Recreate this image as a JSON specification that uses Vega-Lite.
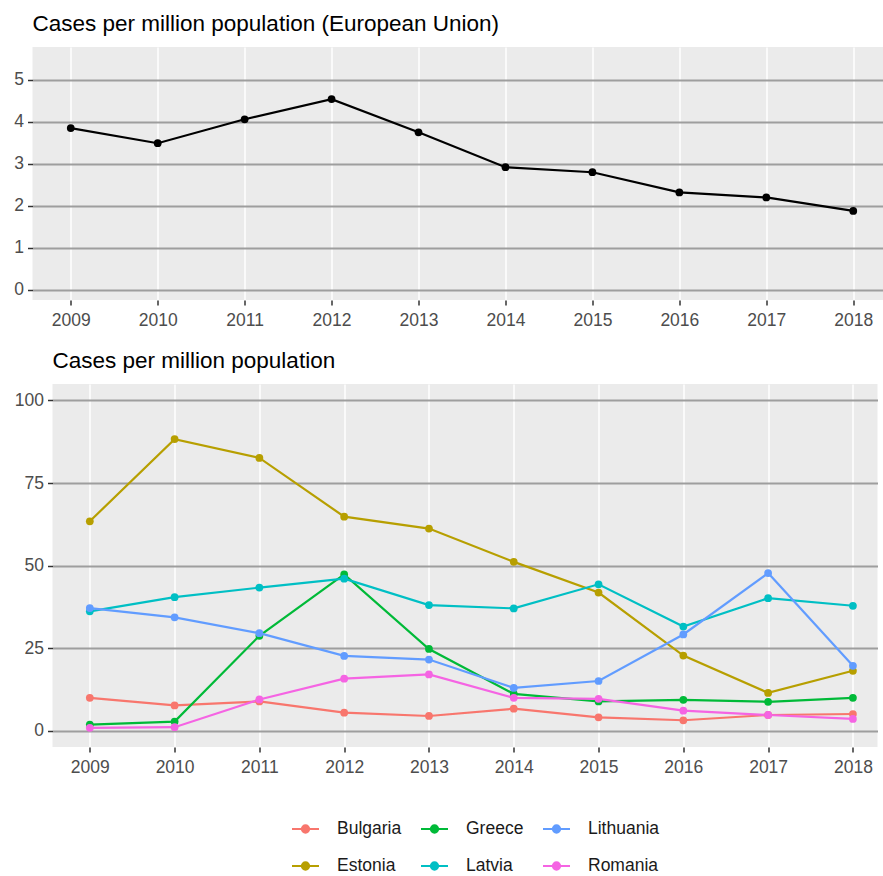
{
  "$schema": "https://vega.github.io/schema/vega-lite/v6.json",
  "padding": {"left": 13.5, "top": 12, "right": -15, "bottom": 0},
  "background": "#FFFFFF",
  "config": {
    "font": "Liberation Sans",
    "view": {"fill": "#EBEBEB", "stroke": null},
    "axis": {
      "domain": false,
      "tickColor": "#333333",
      "tickSize": 5,
      "tickWidth": 1.5,
      "labelColor": "#4D4D4D",
      "labelFontSize": 17.5,
      "labelFont": "Liberation Sans",
      "gridOpacity": 1
    },
    "axisX": {"gridColor": "#FFFFFF", "gridWidth": 1.5, "labelPadding": 6},
    "axisY": {"gridColor": "#9E9E9E", "gridWidth": 2, "labelPadding": 4},
    "title": {
      "anchor": "start",
      "frame": "group",
      "fontSize": 22.5,
      "fontWeight": "normal",
      "color": "#000000",
      "font": "Liberation Sans",
      "offset": 12
    }
  },
  "resolve": {"scale": {"color": "independent"}, "legend": {"color": "independent"}},
  "spacing": 20,
  "center": true,
  "vconcat": [
    {
      "title": {"text": "Cases per million population (European Union)"},
      "width": 859,
      "height": 253,
      "data": {
        "values": [
          {"year": 2009, "value": 3.85},
          {"year": 2010, "value": 3.49},
          {"year": 2011, "value": 4.06},
          {"year": 2012, "value": 4.54},
          {"year": 2013, "value": 3.75},
          {"year": 2014, "value": 2.92},
          {"year": 2015, "value": 2.80},
          {"year": 2016, "value": 2.32},
          {"year": 2017, "value": 2.20},
          {"year": 2018, "value": 1.88}
        ]
      },
      "encoding": {
        "x": {
          "field": "year",
          "type": "quantitative",
          "scale": {"domain": [2008.56, 2018.44], "nice": false, "zero": false},
          "axis": {"values": [2009, 2010, 2011, 2012, 2013, 2014, 2015, 2016, 2017, 2018], "format": "d", "title": null}
        }
      },
      "resolve": {"axis": {"y": "independent"}},
      "layer": [
        {
          "mark": {"type": "line", "color": "#000000", "strokeWidth": 2.2},
          "encoding": {
            "y": {
              "field": "value",
              "type": "quantitative",
              "scale": {"domain": [-0.24, 5.78], "nice": false, "zero": false},
              "axis": {"values": [0, 1, 2, 3, 4, 5], "title": null}
            }
          }
        },
        {
          "mark": {"type": "point", "filled": true, "color": "#000000", "size": 60, "opacity": 1},
          "encoding": {
            "y": {
              "field": "value",
              "type": "quantitative",
              "axis": {
                "orient": "right",
                "values": [0],
                "labels": false,
                "domain": false,
                "grid": false,
                "ticks": true,
                "tickSize": 6,
                "tickOpacity": 0,
                "tickColor": "transparent",
                "title": null
              }
            }
          }
        }
      ]
    },
    {
      "title": {"text": "Cases per million population"},
      "width": 825,
      "height": 363,
      "data": {
        "values": [
          {"year": 2009, "country": "Bulgaria", "cases": 9.9},
          {"year": 2010, "country": "Bulgaria", "cases": 7.6},
          {"year": 2011, "country": "Bulgaria", "cases": 8.8},
          {"year": 2012, "country": "Bulgaria", "cases": 5.4},
          {"year": 2013, "country": "Bulgaria", "cases": 4.4},
          {"year": 2014, "country": "Bulgaria", "cases": 6.6},
          {"year": 2015, "country": "Bulgaria", "cases": 4.0},
          {"year": 2016, "country": "Bulgaria", "cases": 3.1},
          {"year": 2017, "country": "Bulgaria", "cases": 4.7},
          {"year": 2018, "country": "Bulgaria", "cases": 5.0},
          {"year": 2009, "country": "Estonia", "cases": 63.4},
          {"year": 2010, "country": "Estonia", "cases": 88.3},
          {"year": 2011, "country": "Estonia", "cases": 82.6},
          {"year": 2012, "country": "Estonia", "cases": 64.8},
          {"year": 2013, "country": "Estonia", "cases": 61.2},
          {"year": 2014, "country": "Estonia", "cases": 51.1},
          {"year": 2015, "country": "Estonia", "cases": 41.8},
          {"year": 2016, "country": "Estonia", "cases": 22.7},
          {"year": 2017, "country": "Estonia", "cases": 11.4},
          {"year": 2018, "country": "Estonia", "cases": 18.1},
          {"year": 2009, "country": "Greece", "cases": 1.8},
          {"year": 2010, "country": "Greece", "cases": 2.7},
          {"year": 2011, "country": "Greece", "cases": 28.7},
          {"year": 2012, "country": "Greece", "cases": 47.3},
          {"year": 2013, "country": "Greece", "cases": 24.7},
          {"year": 2014, "country": "Greece", "cases": 11.1},
          {"year": 2015, "country": "Greece", "cases": 8.8},
          {"year": 2016, "country": "Greece", "cases": 9.3},
          {"year": 2017, "country": "Greece", "cases": 8.7},
          {"year": 2018, "country": "Greece", "cases": 9.9},
          {"year": 2009, "country": "Latvia", "cases": 36.1},
          {"year": 2010, "country": "Latvia", "cases": 40.4},
          {"year": 2011, "country": "Latvia", "cases": 43.3},
          {"year": 2012, "country": "Latvia", "cases": 46.0},
          {"year": 2013, "country": "Latvia", "cases": 38.0},
          {"year": 2014, "country": "Latvia", "cases": 37.0},
          {"year": 2015, "country": "Latvia", "cases": 44.3},
          {"year": 2016, "country": "Latvia", "cases": 31.5},
          {"year": 2017, "country": "Latvia", "cases": 40.1},
          {"year": 2018, "country": "Latvia", "cases": 37.8},
          {"year": 2009, "country": "Lithuania", "cases": 37.1},
          {"year": 2010, "country": "Lithuania", "cases": 34.3},
          {"year": 2011, "country": "Lithuania", "cases": 29.5},
          {"year": 2012, "country": "Lithuania", "cases": 22.6},
          {"year": 2013, "country": "Lithuania", "cases": 21.5},
          {"year": 2014, "country": "Lithuania", "cases": 12.9},
          {"year": 2015, "country": "Lithuania", "cases": 15.0},
          {"year": 2016, "country": "Lithuania", "cases": 29.1},
          {"year": 2017, "country": "Lithuania", "cases": 47.7},
          {"year": 2018, "country": "Lithuania", "cases": 19.6},
          {"year": 2009, "country": "Romania", "cases": 0.8},
          {"year": 2010, "country": "Romania", "cases": 1.0},
          {"year": 2011, "country": "Romania", "cases": 9.4},
          {"year": 2012, "country": "Romania", "cases": 15.7},
          {"year": 2013, "country": "Romania", "cases": 17.0},
          {"year": 2014, "country": "Romania", "cases": 9.9},
          {"year": 2015, "country": "Romania", "cases": 9.6},
          {"year": 2016, "country": "Romania", "cases": 6.0},
          {"year": 2017, "country": "Romania", "cases": 4.7},
          {"year": 2018, "country": "Romania", "cases": 3.5}
        ]
      },
      "encoding": {
        "x": {
          "field": "year",
          "type": "quantitative",
          "scale": {"domain": [2008.56, 2018.29], "nice": false, "zero": false},
          "axis": {"values": [2009, 2010, 2011, 2012, 2013, 2014, 2015, 2016, 2017, 2018], "format": "d", "title": null}
        },
        "y": {
          "field": "cases",
          "type": "quantitative",
          "scale": {"domain": [-5, 105], "nice": false, "zero": false},
          "axis": {"values": [0, 25, 50, 75, 100], "title": null}
        },
        "color": {
          "field": "country",
          "type": "nominal",
          "scale": {
            "domain": ["Bulgaria", "Greece", "Lithuania", "Estonia", "Latvia", "Romania"],
            "range": ["#F8766D", "#00BA38", "#619CFF", "#B79F00", "#00BFC4", "#F564E3"]
          },
          "legend": {
            "title": null,
            "orient": "none",
            "legendX": 238.5,
            "legendY": 430.5,
            "direction": "horizontal",
            "columns": 3,
            "columnPadding": 15,
            "rowPadding": 14,
            "symbolType": "M-1,0H1M-0.27,0A0.27,0.27,0,1,1,0.27,0A0.27,0.27,0,1,1,-0.27,0Z",
            "symbolSize": 729,
            "symbolStrokeWidth": 2,
            "labelFontSize": 17.5,
            "labelFont": "Liberation Sans",
            "labelColor": "#1A1A1A",
            "labelOffset": 17,
            "encode": {
              "symbols": {
                "update": {
                  "fill": {"scale": "color", "field": "value"},
                  "stroke": {"scale": "color", "field": "value"},
                  "opacity": {"value": 1},
                  "strokeWidth": {"value": 2}
                }
              }
            }
          }
        }
      },
      "layer": [
        {"mark": {"type": "line", "strokeWidth": 2.2}},
        {"mark": {"type": "point", "filled": true, "size": 60, "opacity": 1}}
      ]
    }
  ]
}
